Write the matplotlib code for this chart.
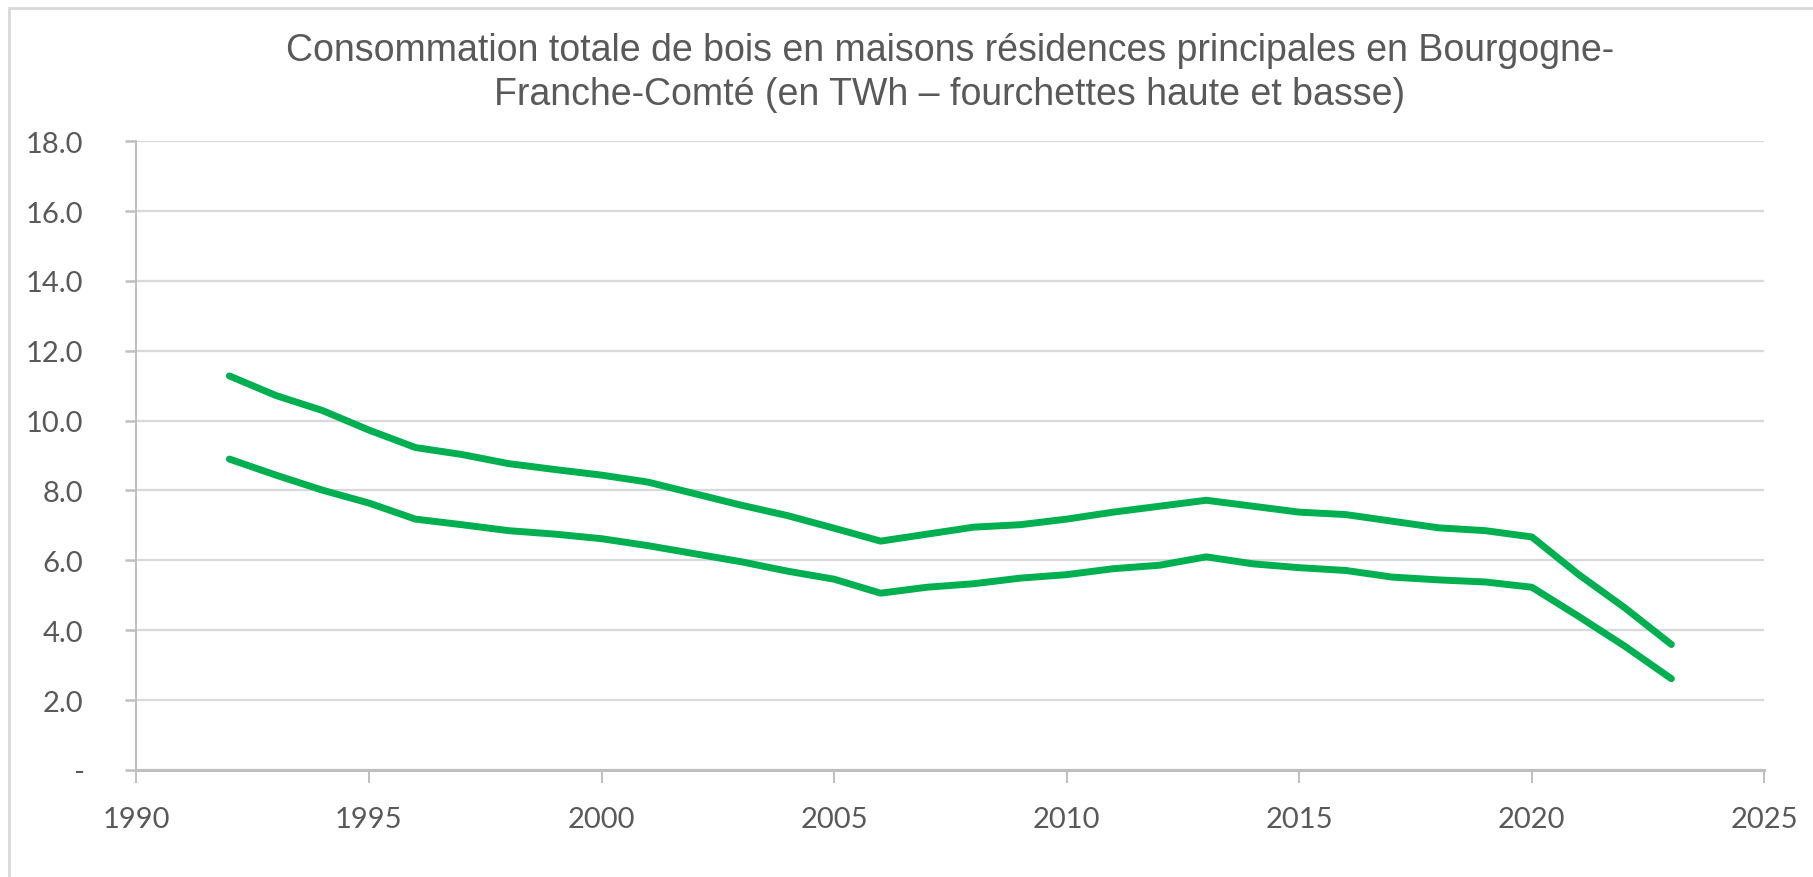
import matplotlib
matplotlib.use("Agg")
import matplotlib.pyplot as plt
from matplotlib.patches import Rectangle
from matplotlib.ticker import FuncFormatter, MultipleLocator

plt.rcParams.update({
    "font.family": ["Lato", "DejaVu Sans"],
    "text.color": "#595959",
    "xtick.color": "#595959",
    "ytick.color": "#595959",
})

years = list(range(1992, 2024))
haute = [11.28, 10.72, 10.29, 9.73, 9.23, 9.03, 8.77, 8.60, 8.44, 8.24,
         7.91, 7.58, 7.28, 6.92, 6.55, 6.75, 6.95, 7.02, 7.18, 7.38,
         7.55, 7.72, 7.55, 7.38, 7.31, 7.12, 6.93, 6.85, 6.67, 5.60,
         4.64, 3.59]
basse = [8.90, 8.44, 8.01, 7.64, 7.18, 7.02, 6.85, 6.75, 6.62, 6.42,
         6.19, 5.96, 5.69, 5.46, 5.06, 5.23, 5.33, 5.49, 5.59, 5.76,
         5.86, 6.10, 5.90, 5.79, 5.71, 5.52, 5.44, 5.38, 5.23, 4.40,
         3.54, 2.61]

GREEN = "#00B050"
GRID = "#d9d9d9"

fig = plt.figure(figsize=(18.13, 8.78), dpi=100)
ax = fig.add_axes([0.0752, 0.122, 0.898, 0.716])

# light frame round the chart area
fig.patches.append(Rectangle((0.005, -0.02), 1.2, 1.01, transform=fig.transFigure,
                             fill=False, edgecolor=GRID, linewidth=2))

for serie in (haute, basse):
    ax.plot(years, serie, color=GREEN, linewidth=5,
            solid_capstyle="round", solid_joinstyle="round", zorder=3)

ax.set_xlim(1990, 2025)
ax.set_ylim(0, 18)
ax.xaxis.set_major_locator(MultipleLocator(5))
ax.yaxis.set_major_locator(MultipleLocator(2))
ax.yaxis.set_major_formatter(FuncFormatter(lambda v, _: "-" if v == 0 else f"{v:.1f}"))

ax.grid(True, axis="y", color=GRID, linewidth=1.6)
ax.set_axisbelow(True)
for s in ("top", "right"):
    ax.spines[s].set_visible(False)
ax.spines["left"].set_color("#bfbfbf")
ax.spines["left"].set_linewidth(1.4)
ax.spines["bottom"].set_color("#bfbfbf")
ax.spines["bottom"].set_linewidth(2.2)

ax.tick_params(axis="x", length=9, width=1.4, color="#bfbfbf", pad=17, labelsize=21)
ax.tick_params(axis="y", length=8, width=1.8, color="#bfbfbf", pad=30, labelsize=21)

# two-line title, anchored on the baseline of its second line
fig.text(0.524, 0.8804,
         "Consommation totale de bois en maisons résidences principales en Bourgogne-\n"
         "Franche-Comté (en TWh – fourchettes haute et basse)",
         ha="center", va="baseline", fontsize=27, color="#595959",
         family=["Liberation Sans", "DejaVu Sans"], linespacing=1.3)

fig.savefig("out.png", dpi=100, facecolor="white")
